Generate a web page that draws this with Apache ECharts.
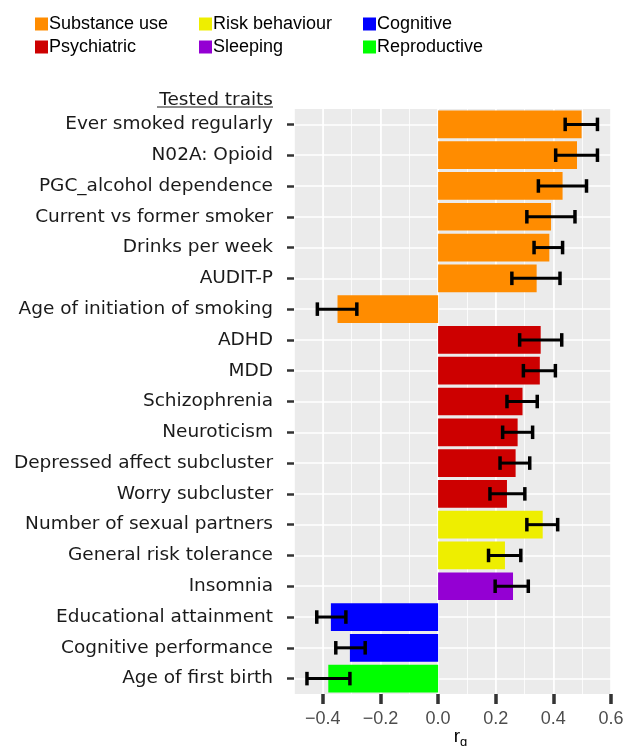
<!DOCTYPE html>
<html lang="en">
<head>
    <meta charset="UTF-8">
    <title>Genetic correlations</title>
    <script src="https://cdn.jsdelivr.net/npm/echarts@6/dist/echarts.min.js"></script>
    <style>
        body { margin: 0; background: #fff; }
    </style>
</head>
<body>
<div id="chart" style="width: 627px; height: 746px;"></div>

<script type="text/javascript">
    // traits, top to bottom
    var traits = [
        'Ever smoked regularly', 'N02A: Opioid', 'PGC_alcohol dependence',
        'Current vs former smoker', 'Drinks per week', 'AUDIT-P',
        'Age of initiation of smoking', 'ADHD', 'MDD', 'Schizophrenia',
        'Neuroticism', 'Depressed affect subcluster', 'Worry subcluster',
        'Number of sexual partners', 'General risk tolerance', 'Insomnia',
        'Educational attainment', 'Cognitive performance', 'Age of first birth'
    ];
    var rg = [0.498, 0.482, 0.432, 0.392, 0.386, 0.342, -0.349, 0.356, 0.353, 0.293,
        0.276, 0.269, 0.239, 0.363, 0.232, 0.260, -0.372, -0.306, -0.381];
    var lower = [0.441, 0.408, 0.348, 0.308, 0.333, 0.256, -0.419, 0.283, 0.296, 0.239,
        0.224, 0.215, 0.180, 0.308, 0.175, 0.198, -0.421, -0.355, -0.455];
    var upper = [0.553, 0.553, 0.515, 0.475, 0.432, 0.423, -0.282, 0.429, 0.407, 0.344,
        0.328, 0.318, 0.301, 0.415, 0.287, 0.313, -0.320, -0.253, -0.306];
    var traitGroup = ['Substance use', 'Substance use', 'Substance use', 'Substance use',
        'Substance use', 'Substance use', 'Substance use', 'Psychiatric', 'Psychiatric',
        'Psychiatric', 'Psychiatric', 'Psychiatric', 'Psychiatric', 'Risk behaviour',
        'Risk behaviour', 'Sleeping', 'Cognitive', 'Cognitive', 'Reproductive'];

    var groups = ['Substance use', 'Psychiatric', 'Risk behaviour', 'Sleeping', 'Cognitive', 'Reproductive'];
    var groupColors = ['#FF8C00', '#CD0000', '#EEEE00', '#9400D3', '#0000FF', '#00FF00'];
    var xTicks = [-0.4, -0.2, 0, 0.2, 0.4, 0.6];

    var font = 'Liberation Sans, Arial, sans-serif';
    var labelFont = 'DejaVu Sans, sans-serif';
    var myChart = echarts.init(document.getElementById('chart'));

    // one bar series per group, stacked so they share the band
    var barSeries = groups.map(function (g, gi) {
        return {
            name: g,
            type: 'bar',
            stack: 'all',
            barWidth: '90%',
            xAxisIndex: 0,
            yAxisIndex: 0,
            itemStyle: { color: groupColors[gi] },
            data: rg.map(function (v, i) { return traitGroup[i] === g ? v : '-'; }),
            z: 3
        };
    });

    var errData = traits.map(function (t, i) { return [i, lower[i], upper[i]]; });

    var errSeries = {
        type: 'custom',
        xAxisIndex: 0,
        yAxisIndex: 0,
        encode: { x: [1, 2], y: 0 },
        data: errData,
        z: 5,
        renderItem: function (params, api) {
            var yi = api.value(0);
            var p1 = api.coord([api.value(1), yi]);
            var p2 = api.coord([api.value(2), yi]);
            var h = api.size([0, 1])[1] * 0.22;
            var st = { stroke: '#000', lineWidth: 3 };
            var cap = { stroke: '#000', lineWidth: 3.5 };
            return {
                type: 'group',
                children: [
                    { type: 'line', shape: { x1: p1[0], y1: p1[1], x2: p2[0], y2: p2[1] }, style: st },
                    { type: 'line', shape: { x1: p1[0], y1: p1[1] - h, x2: p1[0], y2: p1[1] + h }, style: cap },
                    { type: 'line', shape: { x1: p2[0], y1: p2[1] - h, x2: p2[0], y2: p2[1] + h }, style: cap }
                ]
            };
        }
    };

    function legendCol(names, left) {
        return {
            orient: 'vertical',
            left: left,
            top: 15,
            padding: 0,
            itemWidth: 13,
            itemHeight: 13,
            itemGap: 5,
            icon: 'rect',
            selectedMode: false,
            data: names,
            textStyle: { fontFamily: font, fontSize: 18, color: '#000', padding: [0, 0, 0, -4] }
        };
    }

    var option = {
        animation: false,
        textStyle: { fontFamily: font },
        legend: [
            legendCol(['Substance use', 'Psychiatric'], 35),
            legendCol(['Risk behaviour', 'Sleeping'], 199),
            legendCol(['Cognitive', 'Reproductive'], 363)
        ],
        grid: {
            left: 294,
            right: 16,
            top: 109,
            bottom: 52,
            outerBoundsMode: 'none',
            containLabel: false,
            show: true,
            backgroundColor: '#EBEBEB',
            borderWidth: 0
        },
        graphic: [
            {
                type: 'text',
                style: {
                    x: 273, y: 100, text: 'Tested traits', align: 'right', verticalAlign: 'middle',
                    font: '18.5px ' + labelFont, fill: '#1a1a1a'
                }
            },
            {
                type: 'line',
                shape: { x1: 157, y1: 107, x2: 273, y2: 107 },
                style: { stroke: '#1a1a1a', lineWidth: 1 }
            }
        ],
        xAxis: [
            {   // minor grid
                type: 'value', position: 'bottom', min: -0.5, max: 0.6, interval: 0.1,
                axisLine: { show: false, onZero: false }, axisTick: { show: false }, axisLabel: { show: false },
                splitLine: { lineStyle: { color: '#FFFFFF', width: 0.8 } }
            },
            {   // major grid
                type: 'value', position: 'bottom', min: -0.5, max: 0.6, interval: 0.1,
                axisLine: { show: false, onZero: false }, axisTick: { show: false }, axisLabel: { show: false },
                splitLine: { lineStyle: { color: ['rgba(0,0,0,0)', '#FFFFFF'], width: 1.6 } }
            },
            {   // ticks and labels
                type: 'value', position: 'bottom', min: -0.5, max: 0.6, interval: 0.1,
                axisLine: { show: false, onZero: false },
                splitLine: { show: false },
                axisTick: { show: true, length: 10, customValues: xTicks, lineStyle: { color: '#333', width: 3.5 } },
                axisLabel: {
                    customValues: xTicks,
                    margin: 16,
                    fontSize: 18,
                    color: '#4D4D4D',
                    formatter: function (v) { return (v < 0 ? '\u2212' : '') + Math.abs(v).toFixed(1); }
                },
                name: 'r{sub|g}',
                nameLocation: 'middle',
                nameGap: 30,
                nameMoveOverlap: false,
                nameTextStyle: {
                    fontSize: 19, color: '#000', padding: [0, 0, 0, 16],
                    rich: { sub: { fontSize: 13, color: '#000', padding: [12, 0, 0, 0] } }
                }
            }
        ],
        yAxis: [
            {
                type: 'category',
                inverse: true,
                data: traits,
                axisLine: { show: false, onZero: false },
                axisTick: { show: true, alignWithLabel: true, length: 7, lineStyle: { color: '#333', width: 2.5 } },
                axisLabel: { fontSize: 18.5, fontFamily: labelFont, color: '#1a1a1a', margin: 21 },
                splitLine: { show: false }
            },
            {   // horizontal grid lines at category centres
                type: 'value',
                inverse: true,
                min: -0.5,
                max: 18.5,
                splitNumber: 19,
                axisLine: { show: false, onZero: false }, axisTick: { show: false }, axisLabel: { show: false },
                splitLine: { showMinLine: false, showMaxLine: false, lineStyle: { color: '#FFFFFF', width: 1.6 } }
            }
        ],
        series: barSeries.concat([errSeries])
    };

    myChart.setOption(option);
</script>
</body>
</html>
